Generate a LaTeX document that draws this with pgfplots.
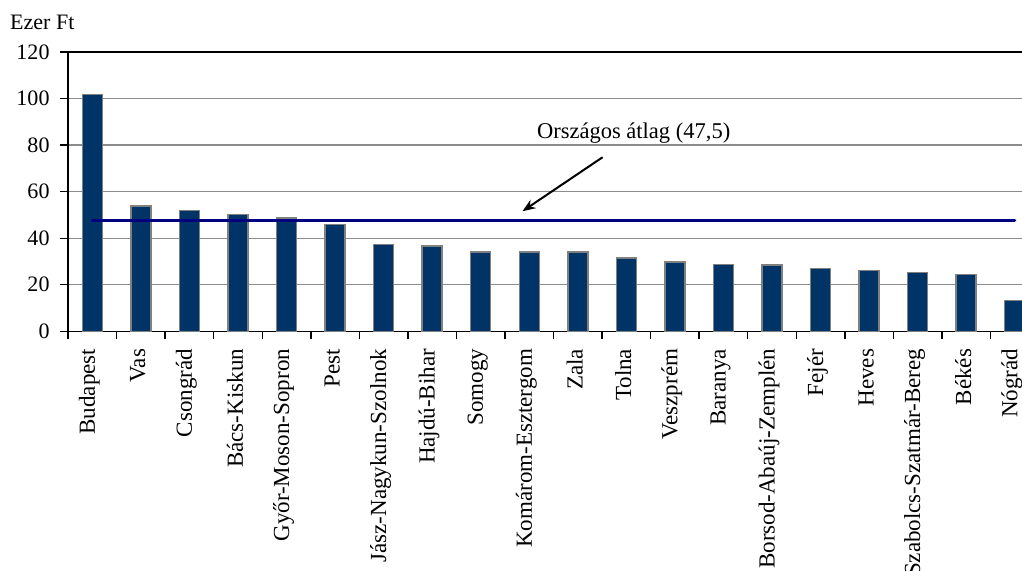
\documentclass[border=0pt]{standalone}
\usepackage{fontspec}
\setmainfont{Liberation Serif}
\usepackage{pgfplots}
\pgfplotsset{compat=1.18}
\usetikzlibrary{arrows.meta}
\definecolor{barfill}{RGB}{0,51,102}
\definecolor{avgline}{RGB}{0,0,128}
\definecolor{gridgray}{RGB}{140,140,140}
\begin{document}
\begin{tikzpicture}[x=1pt,y=1pt]
\begin{axis}[
	at={(0,0)}, anchor=south west,
	scale only axis,
	width=954pt, height=279pt,
	xmin=-0.5, xmax=19.17,
	ymin=0, ymax=120,
	ytick={0,20,...,120},
	xtick={0,...,19},
	xticklabels={Budapest,Vas,Csongrád,Bács-Kiskun,Győr-Moson-Sopron,Pest,Jász-Nagykun-Szolnok,Hajdú-Bihar,Somogy,Komárom-Esztergom,Zala,Tolna,Veszprém,Baranya,Borsod-Abaúj-Zemplén,Fejér,Heves,Szabolcs-Szatmár-Bereg,Békés,Nógrád},
	minor xtick={-0.5,0.5,...,18.5},
	major x tick style={draw=none},
	xtick pos=bottom, ytick pos=left,
	tick align=outside,
	major tick length=8pt, minor tick length=8pt,
	tick style={black, line width=1.4pt},
	axis line style={black, line width=1.4pt},
	ymajorgrids,
	grid style={gridgray, line width=1.3pt},
	/pgf/number format/assume math mode=true,
	tick label style={font=\fontsize{22}{24}\selectfont},
	xticklabel style={rotate=90, anchor=east, yshift=3pt, xshift=-6pt, font=\fontsize{23}{25}\selectfont},
	yticklabel style={xshift=-7pt},
	clip=true,
]
\addplot[ybar, bar width=20pt, fill=barfill, draw=gray, line width=1.5pt]
	coordinates {
	(0,101.8) (1,53.8) (2,52.0) (3,50.3) (4,48.6)
	(5,46.0) (6,37.4) (7,36.6) (8,34.0) (9,34.0)
	(10,34.0) (11,31.4) (12,29.7) (13,28.8) (14,28.5)
	(15,27.0) (16,26.1) (17,25.2) (18,24.4) (19,13.2)
	};
\addplot[avgline, line width=3pt, line cap=round] coordinates {(0,47.5) (19,47.5)};
\node[font=\fontsize{22.5}{24}\selectfont] at (axis cs:11.15,85.2) {Országos átlag (47,5)};
\draw[black, line width=2pt, -{Stealth[length=13pt,width=10pt]}] (axis cs:10.51,74.8) -- (axis cs:8.86,51.6);
\end{axis}
\node[anchor=base west, font=\fontsize{22}{24}\selectfont, inner sep=0pt] at (-58,302) {Ezer Ft};
\pgfresetboundingbox
\path[use as bounding box] (-68,-239) rectangle (953,331);
\end{tikzpicture}
\end{document}
